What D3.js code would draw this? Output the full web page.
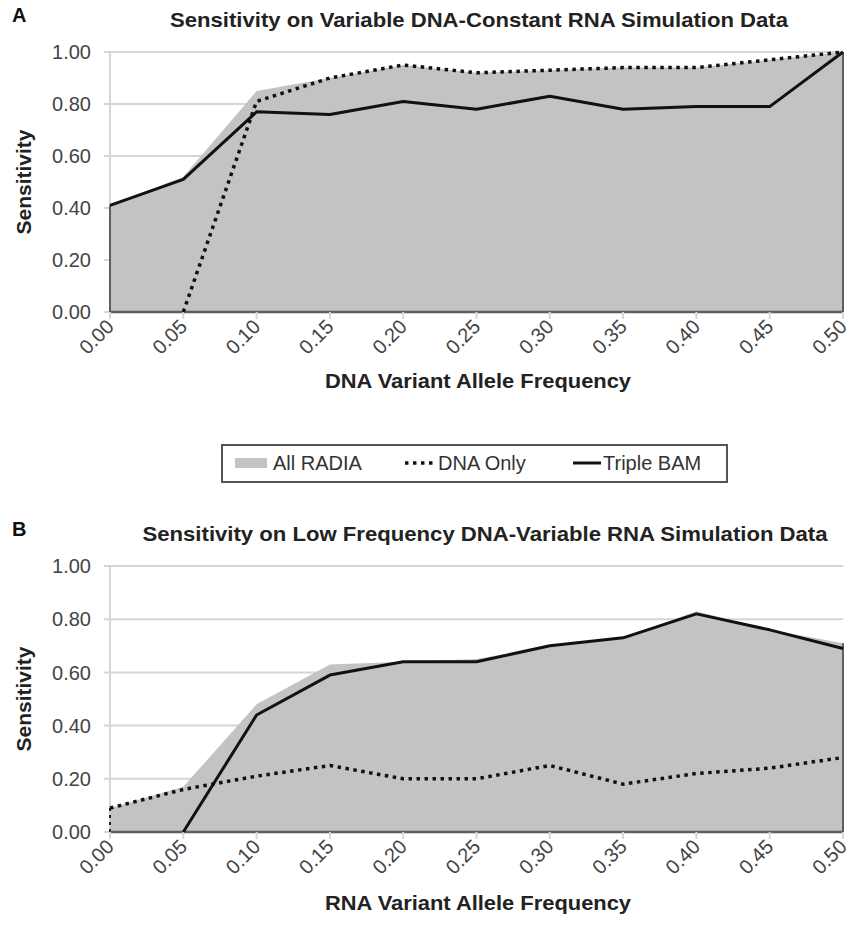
<!DOCTYPE html>
<html>
<head>
<meta charset="utf-8">
<script src="https://cdn.jsdelivr.net/npm/d3@7"></script>
<style>
body { margin: 0; background: #fff; }
text { font-family: "Liberation Sans", Arial, sans-serif; }
</style>
</head>
<body>
<div id="chart"></div>
<script>
var freqs = [0.00, 0.05, 0.10, 0.15, 0.20, 0.25, 0.30, 0.35, 0.40, 0.45, 0.50];
var yTicks = [0, 0.2, 0.4, 0.6, 0.8, 1.0];
var legendNames = ["All RADIA", "DNA Only", "Triple BAM"];

// panel A : variable DNA, constant RNA
var allRadiaA = [0.41, 0.52, 0.85, 0.90, 0.95, 0.92, 0.93, 0.94, 0.94, 0.97, 1.00];
var dnaOnlyA = [null, 0.00, 0.81, 0.90, 0.95, 0.92, 0.93, 0.94, 0.94, 0.97, 1.00];
var tripleBamA = [0.41, 0.51, 0.77, 0.76, 0.81, 0.78, 0.83, 0.78, 0.79, 0.79, 1.00];

// panel B : low frequency DNA, variable RNA
var allRadiaB = [0.09, 0.17, 0.48, 0.63, 0.64, 0.65, 0.70, 0.73, 0.83, 0.76, 0.71];
var dnaOnlyB = [0.09, 0.16, 0.21, 0.25, 0.20, 0.20, 0.25, 0.18, 0.22, 0.24, 0.28];
var tripleBamB = [null, 0.00, 0.44, 0.59, 0.64, 0.64, 0.70, 0.73, 0.82, 0.76, 0.69];

var W = 851, H = 943;
var svg = d3.select("#chart").append("svg").attr("width", W).attr("height", H);

var areaColor = "#c3c3c3";
var edgeColor = "#5e5e5e";
var gridColor = "#d6d6d6";

function drawPanel(p) {
    var x = d3.scaleLinear().domain([0, 0.5]).range([110, 843]);
    var y = d3.scaleLinear().domain([0, 1]).range([p.bottom, p.top]);
    var g = svg.append("g");

    // panel letter and title
    g.append("text").attr("x", 12).attr("y", p.top - 30)
        .attr("font-size", 20).attr("font-weight", "bold").attr("fill", "#111")
        .text(p.letter);
    g.append("text").attr("x", p.titleX).attr("y", p.top - 25)
        .attr("text-anchor", "middle").attr("font-size", 21).attr("font-weight", "bold").attr("fill", "#222")
        .attr("textLength", p.titleLen).attr("lengthAdjust", "spacingAndGlyphs")
        .text(p.title);

    // gridlines + y ticks
    g.selectAll(".grid").data(yTicks).enter().append("line")
        .attr("x1", 104).attr("x2", x(0.5))
        .attr("y1", function(d) { return y(d); }).attr("y2", function(d) { return y(d); })
        .attr("stroke", gridColor).attr("stroke-width", 2);
    g.append("line").attr("x1", x(0)).attr("x2", x(0)).attr("y1", y(1)).attr("y2", y(0))
        .attr("stroke", gridColor).attr("stroke-width", 2);

    g.selectAll(".ylab").data(yTicks).enter().append("text")
        .attr("x", 91).attr("y", function(d) { return y(d); }).attr("dy", "0.36em")
        .attr("text-anchor", "end").attr("font-size", 20).attr("fill", "#444")
        .text(function(d) { return d3.format(".2f")(d); });

    // area
    var area = d3.area()
        .x(function(d, i) { return x(freqs[i]); })
        .y0(y(0)).y1(function(d) { return y(d); });
    g.append("path").datum(p.all).attr("d", area).attr("fill", areaColor);

    // area edges
    g.append("line").attr("x1", x(0.5)).attr("x2", x(0.5))
        .attr("y1", y(0)).attr("y2", y(p.all[p.all.length - 1]))
        .attr("stroke", edgeColor).attr("stroke-width", 2);
    g.append("line").attr("x1", x(0)).attr("x2", x(0))
        .attr("y1", y(0)).attr("y2", y(p.all[0]))
        .attr("stroke", p.leftDotted ? "#222" : edgeColor).attr("stroke-width", 2)
        .attr("stroke-dasharray", p.leftDotted ? "3,4" : null);
    g.append("line").attr("x1", x(0)).attr("x2", x(0.5)).attr("y1", y(0)).attr("y2", y(0))
        .attr("stroke", edgeColor).attr("stroke-width", 2.5);

    // x ticks
    g.selectAll(".xtick").data(freqs).enter().append("line")
        .attr("x1", function(d) { return x(d); }).attr("x2", function(d) { return x(d); })
        .attr("y1", y(0)).attr("y2", y(0) + 7)
        .attr("stroke", gridColor).attr("stroke-width", 2);

    g.selectAll(".xlab").data(freqs).enter().append("text")
        .attr("text-anchor", "end").attr("font-size", 20).attr("fill", "#444")
        .attr("transform", function(d) {
            return "translate(" + (x(d) + 5) + "," + (y(0) + 16) + ")rotate(-45)";
        })
        .text(function(d) { return d3.format(".2f")(d); });

    // lines
    var line = d3.line()
        .defined(function(d) { return d != null; })
        .x(function(d, i) { return x(freqs[i]); })
        .y(function(d) { return y(d); });
    g.append("path").datum(p.dna).attr("d", line).attr("fill", "none")
        .attr("stroke", "#111").attr("stroke-width", 3.5).attr("stroke-dasharray", "3.5,4.5");
    g.append("path").datum(p.triple).attr("d", line).attr("fill", "none")
        .attr("stroke", "#111").attr("stroke-width", 3).attr("stroke-linejoin", "round");

    // axis titles
    g.append("text")
        .attr("transform", "translate(31," + ((p.top + p.bottom) / 2) + ")rotate(-90)")
        .attr("text-anchor", "middle").attr("font-size", 21).attr("font-weight", "bold").attr("fill", "#222")
        .text("Sensitivity");
    g.append("text").attr("x", 478).attr("y", p.xTitleY)
        .attr("text-anchor", "middle").attr("font-size", 20).attr("font-weight", "bold").attr("fill", "#222")
        .attr("textLength", 306).attr("lengthAdjust", "spacingAndGlyphs")
        .text(p.xTitle);
}

drawPanel({
    letter: "A", title: "Sensitivity on Variable DNA-Constant RNA Simulation Data", titleX: 479, titleLen: 618,
    top: 52, bottom: 312, xTitle: "DNA Variant Allele Frequency", xTitleY: 388,
    all: allRadiaA, dna: dnaOnlyA, triple: tripleBamA, leftDotted: false
});
drawPanel({
    letter: "B", title: "Sensitivity on Low Frequency DNA-Variable RNA Simulation Data", titleX: 485, titleLen: 685,
    top: 566, bottom: 832, xTitle: "RNA Variant Allele Frequency", xTitleY: 910,
    all: allRadiaB, dna: dnaOnlyB, triple: tripleBamB, leftDotted: true
});

// legend
var leg = svg.append("g");
leg.append("rect").attr("x", 222).attr("y", 445).attr("width", 505).attr("height", 37)
    .attr("fill", "#fff").attr("stroke", "#555").attr("stroke-width", 2);
leg.append("rect").attr("x", 235).attr("y", 458).attr("width", 32).attr("height", 10).attr("fill", areaColor);
leg.append("line").attr("x1", 405).attr("x2", 434).attr("y1", 463).attr("y2", 463)
    .attr("stroke", "#111").attr("stroke-width", 3.5).attr("stroke-dasharray", "3.5,4.5");
leg.append("line").attr("x1", 573).attr("x2", 601).attr("y1", 463).attr("y2", 463)
    .attr("stroke", "#111").attr("stroke-width", 3);
var legX = [273, 438, 603];
leg.selectAll(".lt").data(legendNames).enter().append("text")
    .attr("x", function(d, i) { return legX[i]; }).attr("y", 470)
    .attr("font-size", 20).attr("fill", "#333")
    .text(function(d) { return d; });
</script>
</body>
</html>
